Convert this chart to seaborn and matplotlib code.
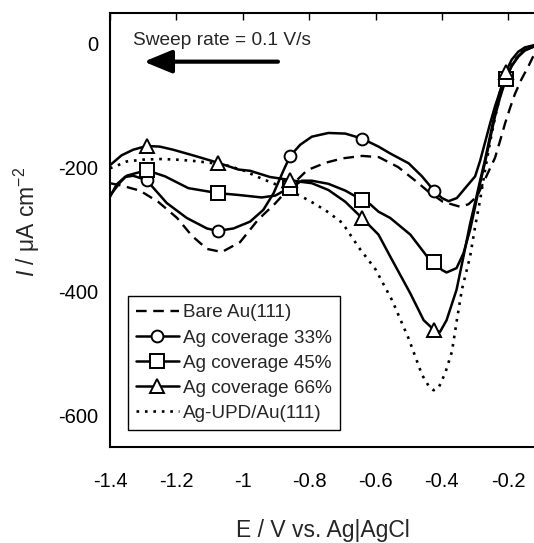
import numpy as np
import pandas as pd
import matplotlib
matplotlib.use("Agg")
import matplotlib.pyplot as plt
from matplotlib.lines import Line2D
import seaborn as sns

# ---------------- data ----------------
bare_x = [-1.40, -1.364, -1.31, -1.255, -1.198, -1.153, -1.108, -1.063, -1.008, -0.954,
          -0.903, -0.85, -0.806, -0.75, -0.70, -0.64, -0.59, -0.532, -0.48, -0.44,
          -0.397, -0.345, -0.32, -0.294, -0.261, -0.24, -0.225, -0.21, -0.195, -0.18,
          -0.16, -0.14, -0.12, -0.10]
bare_y = [-226, -230, -238, -256, -282, -311, -332, -337, -321, -285,
          -259, -228, -205, -193, -186, -182, -184, -200, -222, -240,
          -256, -264, -260, -247, -209, -185, -158, -130, -105, -82,
          -58, -38, -16, -5]

c33_x = [-1.40, -1.38, -1.355, -1.33, -1.29, -1.229, -1.169, -1.108, -1.076, -1.028,
         -0.978, -0.938, -0.907, -0.877, -0.857, -0.827, -0.792, -0.742, -0.691, -0.641,
         -0.591, -0.556, -0.50, -0.46, -0.424, -0.40, -0.38, -0.355, -0.33, -0.30,
         -0.285, -0.27, -0.255, -0.24, -0.225, -0.207, -0.19, -0.17, -0.15, -0.12, -0.10]
c33_y = [-248, -228, -216, -214, -221, -258, -282, -299, -303, -299,
         -288, -269, -242, -205, -182, -164, -151, -145, -146, -154,
         -167, -178, -194, -215, -238, -250, -255, -250, -234, -215,
         -190, -160, -130, -102, -78, -55, -37, -22, -12, -5, -2]

s45_x = [-1.40, -1.37, -1.35, -1.29, -1.234, -1.164, -1.075, -1.013, -0.943, -0.902,
         -0.882, -0.857, -0.822, -0.792, -0.742, -0.691, -0.641, -0.616, -0.591, -0.556,
         -0.495, -0.445, -0.423, -0.40, -0.386, -0.356, -0.335, -0.315, -0.30, -0.285,
         -0.27, -0.255, -0.24, -0.225, -0.207, -0.19, -0.17, -0.15, -0.12, -0.10]
s45_y = [-246, -225, -214, -205, -215, -234, -242, -245, -249, -246,
         -240, -234, -222, -222, -227, -238, -253, -260, -272, -282,
         -309, -344, -353, -366, -370, -363, -339, -301, -264, -226,
         -192, -155, -118, -88, -58, -37, -21, -11, -5, -2]

t66_x = [-1.40, -1.365, -1.33, -1.29, -1.25, -1.21, -1.144, -1.075, -1.013, -0.978,
         -0.918, -0.857, -0.822, -0.792, -0.742, -0.691, -0.641, -0.591, -0.556, -0.495,
         -0.455, -0.425, -0.406, -0.386, -0.356, -0.335, -0.315, -0.30, -0.285, -0.27,
         -0.255, -0.24, -0.225, -0.207, -0.19, -0.17, -0.15, -0.12, -0.10]
t66_y = [-197, -181, -172, -166, -167, -172, -182, -193, -204, -206,
         -216, -221, -224, -226, -237, -256, -282, -309, -344, -404,
         -447, -462, -466, -447, -398, -344, -291, -257, -222, -188,
         -150, -112, -78, -46, -27, -14, -7, -3, -1]

upd_x = [-1.40, -1.376, -1.35, -1.30, -1.25, -1.20, -1.15, -1.10, -1.05, -1.00,
         -0.95, -0.90, -0.85, -0.80, -0.75, -0.70, -0.65, -0.60, -0.55, -0.50,
         -0.46, -0.44, -0.425, -0.41, -0.39, -0.37, -0.355, -0.34, -0.315, -0.30,
         -0.285, -0.27, -0.255, -0.24, -0.225, -0.207, -0.19, -0.17, -0.15, -0.12, -0.10]
upd_y = [-202, -197, -191, -188, -187, -188, -190, -193, -197, -205,
         -217, -228, -240, -254, -270, -290, -330, -365, -415, -477,
         -535, -553, -560, -556, -532, -498, -447, -398, -344, -296,
         -253, -205, -160, -120, -85, -55, -35, -20, -10, -5, -2]

# marker positions
c33_mx = [-1.29, -1.075, -0.857, -0.640, -0.424]
c33_my = [-221, -303, -182, -154, -238]
s45_mx = [-1.29, -1.075, -0.857, -0.640, -0.424, -0.207]
s45_my = [-205, -242, -234, -253, -353, -58]
t66_mx = [-1.29, -1.075, -0.857, -0.640, -0.424, -0.207]
t66_my = [-166, -193, -221, -282, -462, -46]

labels = ["Bare Au(111)", "Ag coverage 33%", "Ag coverage 45%",
          "Ag coverage 66%", "Ag-UPD/Au(111)"]
xticks = [-1.4, -1.2, -1.0, -0.8, -0.6, -0.4, -0.2]
xticklabels = ["-1.4", "-1.2", "-1", "-0.8", "-0.6", "-0.4", "-0.2"]
yticks = [0, -200, -400, -600]
yticklabels = ["0", "-200", "-400", "-600"]

# ---------------- style ----------------
sns.set_theme(style="white")
plt.rcParams["font.family"] = ["Liberation Sans", "DejaVu Sans"]
plt.rcParams["mathtext.fontset"] = "custom"
plt.rcParams["mathtext.rm"] = "Liberation Sans"
plt.rcParams["mathtext.it"] = "Liberation Sans:italic"

fig = plt.figure(figsize=(5.34, 5.43), dpi=100)
ax = fig.add_axes([110 / 534, (543 - 446.7) / 543, 431.5 / 534, 433.4 / 543])

LW = 1.8
dash = (0, (4.5, 2.8))
dot = (0, (1, 2.2))

sns.lineplot(x=bare_x, y=bare_y, ax=ax, color="black", lw=1.7, linestyle=dash, sort=False)
sns.lineplot(x=c33_x, y=c33_y, ax=ax, color="black", lw=LW, sort=False)
sns.lineplot(x=s45_x, y=s45_y, ax=ax, color="black", lw=LW, sort=False)
sns.lineplot(x=t66_x, y=t66_y, ax=ax, color="black", lw=LW, sort=False)
sns.lineplot(x=upd_x, y=upd_y, ax=ax, color="black", lw=1.9, linestyle=dot, sort=False)

mk = dict(color="black", linestyle="none", markerfacecolor="white",
          markeredgecolor="black", markeredgewidth=1.4, sort=False, zorder=5)
sns.lineplot(x=c33_mx, y=c33_my, ax=ax, marker="o", markersize=8.5, **mk)
sns.lineplot(x=s45_mx, y=s45_my, ax=ax, marker="s", markersize=9.5, **mk)
sns.lineplot(x=t66_mx, y=t66_my, ax=ax, marker="^", markersize=9.5, **mk)

ax.set_xlim(-1.4, -0.1)
ax.set_ylim(-651, 48)
ax.set_xticks(xticks)
ax.set_xticklabels(xticklabels)
ax.set_yticks(yticks)
ax.set_yticklabels(yticklabels)
ax.tick_params(axis="both", direction="in", top=True, right=True, length=5,
               width=1, labelsize=14.5, colors="black")
ax.tick_params(axis="x", pad=18.5)
ax.tick_params(axis="y", pad=8.5)
for s in ax.spines.values():
    s.set_color("black")
    s.set_linewidth(1.5)
ax.set_xlabel("")
ax.set_ylabel("")

fig.text(322.5 / 534, 1 - 530 / 543, "E / V vs. Ag|AgCl", fontsize=16.5,
         ha="center", va="center")
fig.text(27 / 534, 1 - 222 / 543, r"$I$ / μA cm$^{-2}$", fontsize=16.5,
         rotation=90, ha="center", va="center")

# sweep annotation
ax.text(-1.331, -3.9, "Sweep rate = 0.1 V/s", fontsize=13.8, ha="left", va="baseline")
ax.annotate("", xy=(-1.298, -30), xytext=(-0.894, -30),
            arrowprops=dict(arrowstyle="-|>,head_length=0.85,head_width=0.35",
                            mutation_scale=20, lw=3.0, color="black",
                            shrinkA=0, shrinkB=0))

handles = [
    Line2D([], [], color="black", lw=1.7, linestyle=dash),
    Line2D([], [], color="black", lw=LW, marker="o", markersize=8.5,
           markerfacecolor="white", markeredgecolor="black", markeredgewidth=1.4),
    Line2D([], [], color="black", lw=LW, marker="s", markersize=9.5,
           markerfacecolor="white", markeredgecolor="black", markeredgewidth=1.4),
    Line2D([], [], color="black", lw=LW, marker="^", markersize=9.5,
           markerfacecolor="white", markeredgecolor="black", markeredgewidth=1.4),
    Line2D([], [], color="black", lw=1.9, linestyle=dot),
]
leg = ax.legend(handles, labels, loc="lower left", bbox_to_anchor=(0.0417, 0.0385),
                borderaxespad=0, frameon=True, fancybox=False, edgecolor="black",
                framealpha=1, fontsize=13.6, handlelength=2.28, handletextpad=0.22,
                labelspacing=0.42, borderpad=0.42, numpoints=1)
leg.get_frame().set_linewidth(1.0)

fig.savefig("out.png", dpi=100)
